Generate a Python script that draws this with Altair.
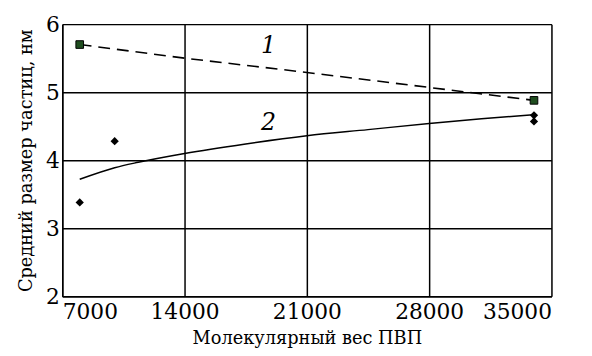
import altair as alt
import pandas as pd

# Data
sq_x = [8000, 34000]
sq_y = [5.70, 4.88]
dia_x = [8000, 10000, 34000, 34000]
dia_y = [3.38, 4.28, 4.66, 4.57]
line1_x = [8000, 14000, 21000, 28000, 34000]
line1_y = [5.70, 5.50, 5.29, 5.07, 4.88]
line2_x = [8000, 10000, 11350, 14000, 17500, 21000, 24500, 28000, 31000, 34000]
line2_y = [3.72, 3.89, 3.97, 4.10, 4.24, 4.36, 4.45, 4.54, 4.61, 4.67]
lab_x = [18800, 18800]
lab_y = [5.67, 4.55]
lab_t = ["1", "2"]
x_ticks = [7000, 14000, 21000, 28000, 35000]
y_ticks = [2, 3, 4, 5, 6]

FONT = "DejaVu Serif"

xs = alt.Scale(domain=[7000, 35000], nice=False, zero=False)
ys = alt.Scale(domain=[2, 6], nice=False, zero=False)

xax = alt.Axis(values=x_ticks, title="Молекулярный вес ПВП", format="d",
               grid=True, gridColor="black", gridWidth=1.5, gridOpacity=1,
               domainColor="black", domainWidth=1.5, ticks=False,
               labelFont=FONT, labelFontSize=22, labelColor="black", labelPadding=5,
               titleFont=FONT, titleFontSize=18, titleFontWeight="normal",
               titleColor="black", titlePadding=8)
yax = alt.Axis(values=y_ticks, title="Средний размер частиц, нм", format="d",
               grid=True, gridColor="black", gridWidth=1.5, gridOpacity=1,
               domainColor="black", domainWidth=1.5, ticks=False,
               labelFont=FONT, labelFontSize=22, labelColor="black", labelPadding=3,
               titleFont=FONT, titleFontSize=18, titleFontWeight="normal",
               titleColor="black", titlePadding=10)

df1 = pd.DataFrame({"x": line1_x, "y": line1_y})
df2 = pd.DataFrame({"x": line2_x, "y": line2_y})
dsq = pd.DataFrame({"x": sq_x, "y": sq_y})
ddi = pd.DataFrame({"x": dia_x, "y": dia_y})
dlab = pd.DataFrame({"x": lab_x, "y": lab_y, "t": lab_t})

base_grid = alt.Chart(df1).mark_line(opacity=0).encode(
    x=alt.X("x:Q", scale=xs, axis=xax),
    y=alt.Y("y:Q", scale=ys, axis=yax),
)

l1 = alt.Chart(df1).mark_line(color="black", strokeWidth=1.6, strokeDash=[12, 7]).encode(
    x=alt.X("x:Q", scale=xs), y=alt.Y("y:Q", scale=ys))
l2 = alt.Chart(df2).mark_line(color="black", strokeWidth=1.5, interpolate="monotone").encode(
    x=alt.X("x:Q", scale=xs), y=alt.Y("y:Q", scale=ys))
sq = alt.Chart(dsq).mark_point(shape="square", filled=True, size=60, color="#1f4d1f",
                               stroke="black", strokeWidth=1, opacity=1).encode(
    x=alt.X("x:Q", scale=xs), y=alt.Y("y:Q", scale=ys))
di = alt.Chart(ddi).mark_point(shape="diamond", filled=True, size=70, color="black", opacity=1).encode(
    x=alt.X("x:Q", scale=xs), y=alt.Y("y:Q", scale=ys))
lab = alt.Chart(dlab).mark_text(font=FONT, fontSize=24, fontStyle="italic", color="black").encode(
    x=alt.X("x:Q", scale=xs), y=alt.Y("y:Q", scale=ys), text="t:N")

chart = alt.layer(base_grid, l1, l2, sq, di, lab).properties(
    width=496, height=276,
    autosize=alt.AutoSizeParams(type="none"),
    padding={"left": 55, "top": 14, "right": 33, "bottom": 50},
).configure_view(stroke="black", strokeWidth=1.5).configure(background="white", font=FONT)

chart.save("out.html", embed_options={"renderer": "svg", "actions": False})
